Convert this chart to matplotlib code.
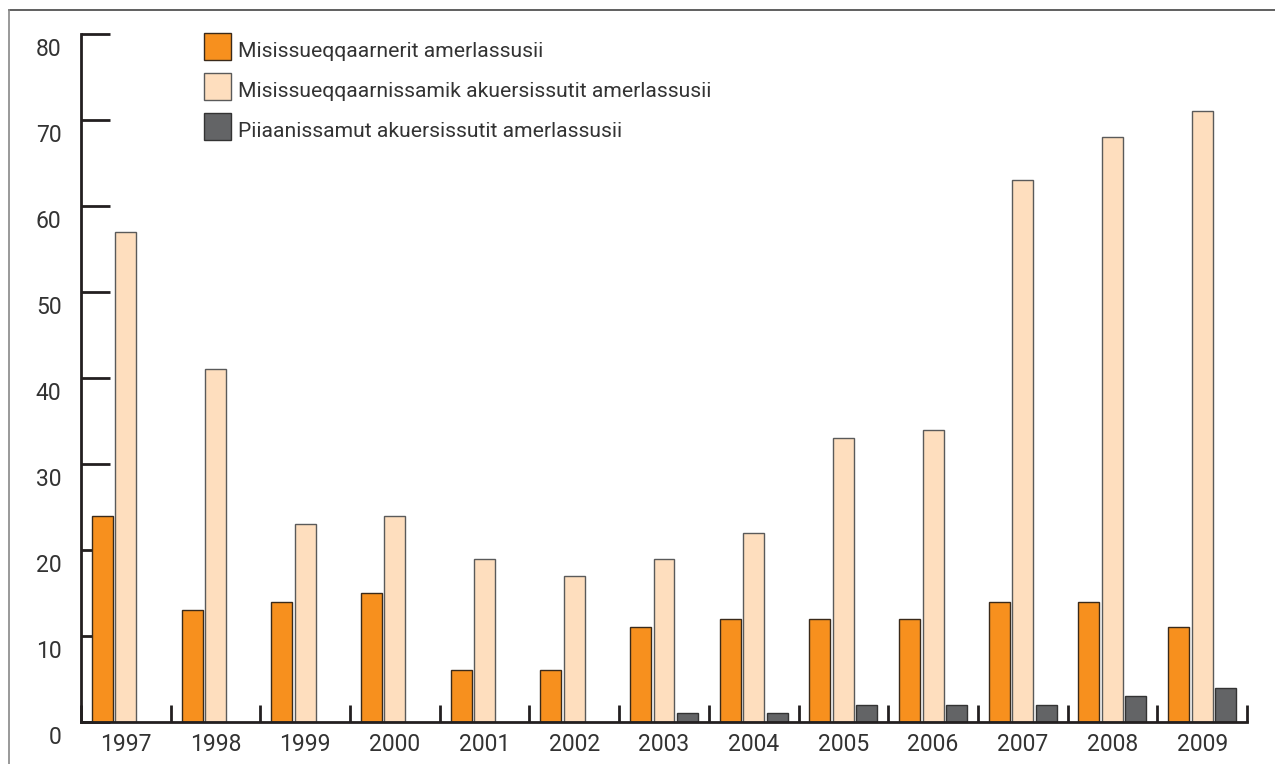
import matplotlib
matplotlib.use("Agg")
import matplotlib.pyplot as plt
import matplotlib.transforms as mtransforms
from matplotlib.patches import Rectangle
from matplotlib.lines import Line2D
import numpy as np

years = ["1997", "1998", "1999", "2000", "2001", "2002", "2003",
         "2004", "2005", "2006", "2007", "2008", "2009"]
series_names = ["Misissueqqaarnerit amerlassusii",
                "Misissueqqaarnissamik akuersissutit amerlassusii",
                "Piiaanissamut akuersissutit amerlassusii"]
first_exams = [24, 13, 14, 15, 6, 6, 11, 12, 12, 12, 14, 14, 11]
exam_permits = [57, 41, 23, 24, 19, 17, 19, 22, 33, 34, 63, 68, 71]
mining_permits = [0, 0, 0, 0, 0, 0, 1, 1, 2, 2, 2, 3, 4]
y_ticks = [0, 10, 20, 30, 40, 50, 60, 70, 80]

colors = ["#F7901E", "#FEDEBE", "#636466"]
edges = ["#3a2a1a", "#5a5a5a", "#333333"]

plt.rcParams['font.family'] = ['Roboto', 'DejaVu Sans']

W, H = 1275, 764
fig = plt.figure(figsize=(W/100, H/100), dpi=100)
ax = fig.add_axes([81/W, 1-722/H, (1247-81)/W, (722-34)/H])

x = np.arange(len(years))
w = 0.234
step = 0.262
for k, (vals, c, e) in enumerate(zip([first_exams, exam_permits, mining_permits], colors, edges)):
    v = np.array(vals, dtype=float)
    mask = v > 0
    ax.bar(x[mask] + (k-1)*step, v[mask], width=w, color=c, edgecolor=e,
           linewidth=1.0, zorder=3)

ax.set_xlim(-0.5, len(years)-0.5)
ax.set_ylim(0, 80)

for s in ['top', 'right']:
    ax.spines[s].set_visible(False)
for s in ['left', 'bottom']:
    ax.spines[s].set_linewidth(2)
    ax.spines[s].set_color('#231f20')
    ax.spines[s].set_zorder(4)

FS = 16.5
ax.set_yticks(y_ticks)
ax.set_yticklabels([str(t) for t in y_ticks])
ax.tick_params(axis='y', direction='in', length=21, width=2, color='#231f20',
               labelsize=FS, labelcolor='#333333', pad=14)
ax.set_xticks(x)
ax.set_xticklabels(years)
ax.tick_params(axis='x', length=0, labelsize=FS, labelcolor='#333333', pad=8)
ax.set_xticks(np.arange(-0.5, len(years)+0.5, 1), minor=True)
ax.tick_params(axis='x', which='minor', direction='in', length=12, width=2, color='#231f20')

offset = mtransforms.ScaledTranslation(0, -13/100, fig.dpi_scale_trans)
for lab in ax.get_yticklabels():
    lab.set_transform(lab.get_transform() + offset)

# legend (drawn as figure-level patches and text)
for i, (name, c, e) in enumerate(zip(series_names, colors, edges)):
    top = 33 + 40*i
    fig.add_artist(Rectangle((204/W, 1-(top+27)/H), 27/W, 27/H, transform=fig.transFigure,
                             facecolor=c, edgecolor=e, linewidth=1.0))
    fig.text(238/W, 1-(top+24)/H, name, fontsize=15.2, color='#333333',
             ha='left', va='baseline')

# outer frame (top and left only, as in the reference)
fig.add_artist(Line2D([9/W, 1], [1-10/H, 1-10/H], transform=fig.transFigure,
                      color='#444444', linewidth=1.2))
fig.add_artist(Line2D([9/W, 9/W], [0, 1-10/H], transform=fig.transFigure,
                      color='#888888', linewidth=1.2))

fig.savefig("out.png", dpi=100)
